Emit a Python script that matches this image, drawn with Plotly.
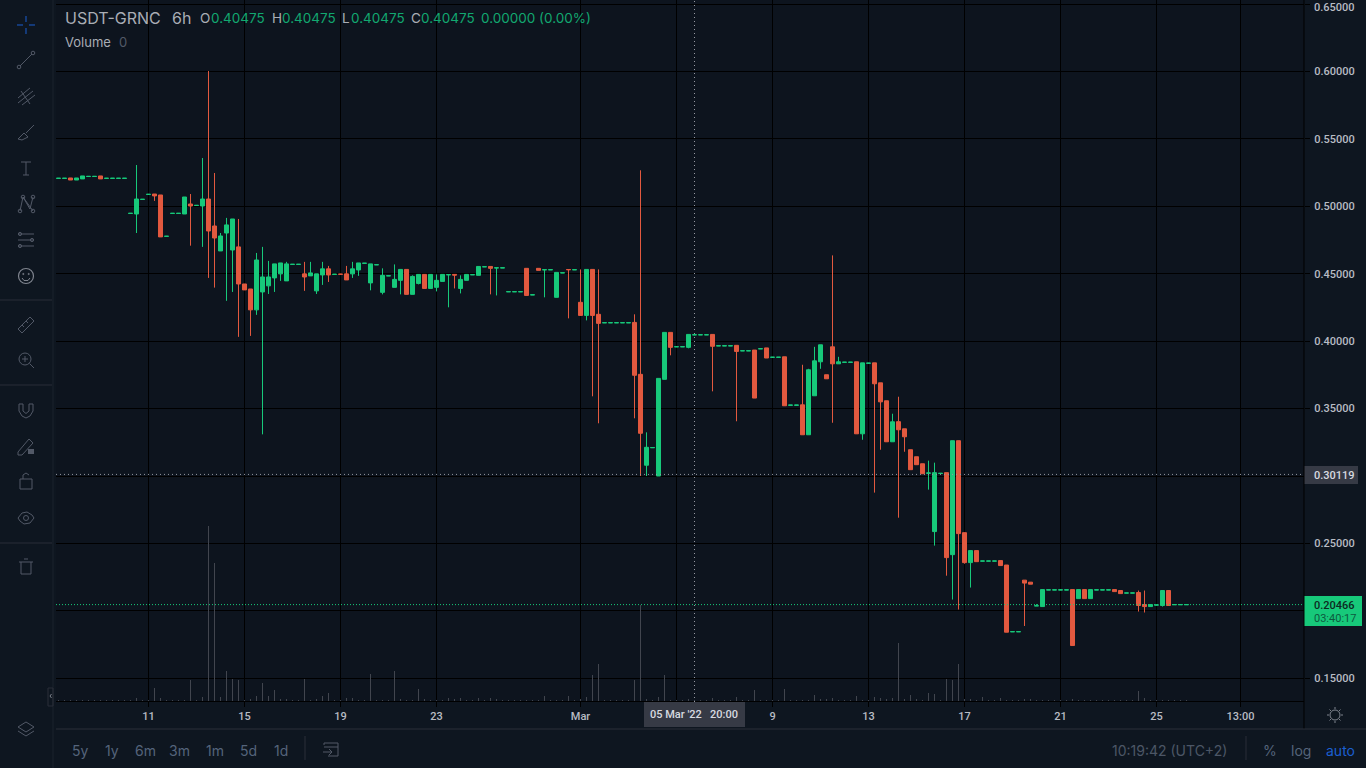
# Grafico de velas USDT-GRNC 6h, estilo TradingView escuro
import pandas as pd
import plotly.graph_objects as go

#%% Dados

inicio = "2022-02-07 06:00"

abertura = [
    .5207, .5207, .5210, .5195, .5203, .5221, .5221, .5225, .5207, .5207,
    .5207, .5207, .4947, .4943, .5051, .5088, .5091, .5084, .4777, .4947,
    .4947, .4943, .5017, .5006, .5002, .5054, .4854, .4669, .4802, .4676,
    .4699, .4424, .4387, .4232, .4365, .4410, .4469, .4499, .4447, .4569,
    .4569, .4499, .4484, .4373, .4491, .4536, .4495, .4497, .4499, .4499,
    .4528, .4577, .4432, .4566, .4362, .4484, .4399, .4451, .4532, .4347,
    .4428, .4495, .4391, .4399, .4443, .4492, .4495, .4391, .4451, .4492,
    .4488, .4551, .4554, .4543, .4543, .4366, .4366, .4366, .4540, .4343,
    .4540, .4529, .4529, .4325, .4506, .4531, .4529, .4288, .4191, .4532,
    .4199, .4136, .4136, .4136, .4136, .4136, .4139, .3754, .3080, .3210,
    .3000, .3717, .4065, .3958, .3958, .3954, .40470, .40470, .40470, .4050,
    .3965, .3965, .3965, .3969, .3928, .3928, .3934, .3943, .3950, .3880,
    .3880, .3884, .3525, .3525, .3528, .3306, .3595, .3847, .3751, .3958,
    .3832, .3843, .3843, .3847, .3313, .3836, .3839, .3691, .3558, .3254,
    .3403, .3350, .3195, .3143, .3091, .3021, .2588, .3019, .3025, .2417,
    .3262, .2580, .2358, .2447, .2369, .2369, .2369, .2373, .2340, .1845,
    .1845, .2228, .2213, .2037, .2032, .2155, .2155, .2155, .2155, .2158,
    .2091, .2158, .2091, .2155, .2155, .2155, .2158, .2151, .2132, .2132,
    .2136, .2047, .2032, .2043, .2040, .2151, .2046, .2046, .2046,
]

fechamento = [
    .5208, .5208, .5195, .5210, .5225, .5222, .5222, .5203, .5208, .5208,
    .5208, .5208, .4948, .5054, .5052, .5089, .5077, .4773, .4778, .4948,
    .4948, .5069, .5002, .5007, .5054, .4817, .4765, .4780, .4862, .4906,
    .4424, .4380, .4232, .4602, .4476, .4476, .4573, .4580, .4573, .4570,
    .4570, .4476, .4506, .4499, .4536, .4491, .4496, .4496, .4454, .4536,
    .4580, .4578, .4573, .4567, .4488, .4485, .4458, .4532, .4347, .4480,
    .4495, .4391, .4495, .4451, .4495, .4493, .4490, .4458, .4495, .4493,
    .4554, .4552, .4540, .4544, .4544, .4367, .4367, .4367, .4339, .4344,
    .4525, .4530, .4530, .4510, .4507, .4530, .4530, .4191, .4532, .4191,
    .4132, .4137, .4137, .4137, .4137, .4137, .3747, .3317, .3213, .3211,
    .3724, .4065, .3954, .3959, .3959, .4050, .40475, .40475, .40475, .3962,
    .3966, .3966, .3966, .3924, .3929, .3929, .3578, .3944, .3875, .3881,
    .3881, .3521, .3526, .3526, .3306, .3788, .3854, .3973, .3721, .3832,
    .3847, .3844, .3844, .3313, .3839, .3837, .3684, .3550, .3254, .3402,
    .3343, .3291, .3047, .3084, .3017, .3022, .3025, .3020, .2395, .3262,
    .2573, .2358, .2447, .2365, .2370, .2370, .2370, .2336, .1842, .1846,
    .1846, .2206, .2198, .2038, .2158, .2156, .2156, .2156, .2156, .1743,
    .2158, .2091, .2158, .2156, .2156, .2156, .2143, .2128, .2133, .2133,
    .2040, .2032, .2047, .2044, .2151, .2040, .20466, .20466, .20466,
]

maxima = [
    .5208, .5208, .5210, .5210, .5225, .5222, .5222, .5225, .5208, .5208,
    .5208, .5208, .4948, .5306, .5052, .5089, .5091, .5084, .4778, .4948,
    .4948, .5069, .5091, .5007, .5358, .6003, .5247, .4802, .4914, .4906,
    .4906, .4424, .4387, .4654, .4699, .4595, .4573, .4580, .4588, .4570,
    .4570, .4588, .4588, .4499, .4588, .4558, .4496, .4497, .4558, .4588,
    .4580, .4578, .4573, .4567, .4540, .4485, .4569, .4532, .4532, .4488,
    .4495, .4495, .4495, .4495, .4495, .4493, .4495, .4488, .4495, .4493,
    .4554, .4552, .4554, .4544, .4544, .4367, .4367, .4367, .4540, .4344,
    .4540, .4530, .4530, .4510, .4507, .4531, .4530, .4532, .4532, .4532,
    .4532, .4137, .4137, .4137, .4137, .4137, .4199, .5267, .3324, .3211,
    .3724, .4065, .4065, .3959, .3959, .4050, .40475, .40475, .40475, .4050,
    .3966, .3966, .3966, .3969, .3929, .3929, .3934, .3944, .3950, .3881,
    .3881, .3884, .3526, .3526, .3825, .3795, .3958, .3973, .3751, .4636,
    .3884, .3844, .3844, .3847, .3839, .3837, .3839, .3691, .3558, .3462,
    .3588, .3350, .3195, .3143, .3091, .3114, .3099, .3020, .3025, .3262,
    .3262, .2580, .2447, .2447, .2370, .2370, .2370, .2373, .2340, .1846,
    .1846, .2228, .2213, .2050, .2158, .2156, .2156, .2156, .2156, .2158,
    .2158, .2158, .2158, .2156, .2156, .2156, .2158, .2151, .2133, .2133,
    .2151, .2151, .2047, .2044, .2151, .2151, .20466, .20466, .20466,
]

minimas = [
    .5207, .5207, .5195, .5195, .5203, .5221, .5221, .5203, .5207, .5207,
    .5207, .5207, .4947, .4802, .5051, .5088, .5040, .4773, .4777, .4947,
    .4947, .4943, .4708, .5006, .4699, .4469, .4397, .4669, .4299, .4365,
    .4032, .4380, .4039, .4195, .3309, .4350, .4365, .4447, .4447, .4569,
    .4569, .4373, .4484, .4350, .4417, .4439, .4495, .4496, .4454, .4469,
    .4484, .4577, .4377, .4566, .4347, .4484, .4399, .4347, .4347, .4347,
    .4421, .4391, .4391, .4369, .4443, .4251, .4391, .4354, .4451, .4492,
    .4488, .4551, .4347, .4339, .4543, .4366, .4366, .4366, .4339, .4343,
    .4525, .4325, .4529, .4325, .4506, .4169, .4529, .4191, .4154, .3591,
    .3391, .4136, .4136, .4136, .4136, .4136, .3428, .3000, .3000, .3210,
    .3000, .3717, .3895, .3958, .3958, .3947, .40470, .40470, .40470, .3628,
    .3965, .3965, .3965, .3406, .3928, .3928, .3578, .3943, .3875, .3880,
    .3880, .3521, .3525, .3525, .3306, .3306, .3595, .3795, .3721, .3395,
    .3832, .3843, .3843, .3313, .3269, .3836, .2877, .3195, .3254, .3254,
    .2691, .3180, .3047, .3084, .3017, .2899, .2484, .3019, .2261, .2084,
    .2010, .2350, .2173, .2365, .2369, .2369, .2369, .2336, .1842, .1845,
    .1845, .1888, .2198, .2037, .2032, .2155, .2155, .2155, .2155, .1743,
    .2091, .2091, .2091, .2155, .2155, .2155, .2143, .2128, .2132, .2132,
    .1995, .1988, .2032, .2043, .2032, .2040, .2046, .2046, .2046,
]

# Volume em unidades relativas, sem escala visivel na imagem
volume = [
    1, 1, 1, 1, 1, 1, 1, 1, 1, 1,
    1, 1, 1, 3, 1, 1, 13, 3, 1, 1,
    1, 1, 21, 1, 4, 175, 138, 4, 30, 22,
    21, 1, 2, 5, 18, 5, 11, 2, 2, 1,
    1, 22, 1, 2, 5, 8, 1, 1, 3, 3,
    1, 1, 27, 1, 1, 1, 30, 2, 1, 1,
    12, 2, 1, 1, 1, 3, 2, 3, 1, 1,
    3, 1, 3, 2, 1, 1, 1, 1, 1, 1,
    1, 5, 1, 1, 1, 5, 1, 2, 4, 26,
    37, 1, 1, 1, 1, 1, 21, 96, 2, 1,
    4, 26, 1, 1, 1, 2, 1, 1, 1, 3,
    1, 1, 1, 4, 1, 1, 11, 1, 1, 1,
    1, 12, 1, 1, 1, 1, 6, 2, 2, 3,
    1, 1, 1, 5, 1, 1, 4, 3, 2, 3,
    58, 2, 6, 2, 1, 8, 7, 1, 22, 21,
    37, 2, 2, 1, 4, 1, 1, 3, 1, 1,
    1, 2, 2, 1, 1, 1, 1, 1, 1, 2,
    1, 1, 1, 1, 1, 1, 1, 1, 1, 1,
    10, 3, 1, 1, 1, 1, 1, 1, 1,
]

precos_eixo = [.15, .20, .25, .30, .35, .40, .45, .50, .55, .60, .65]
rotulos_eixo = ["0.15000", "", "0.25000", "", "0.35000", "0.40000",
                "0.45000", "0.50000", "0.55000", "0.60000", ""]

datas_eixo = ["2022-02-11", "2022-02-15", "2022-02-19", "2022-02-23", "2022-03-01",
              "2022-03-05", "2022-03-09", "2022-03-13", "2022-03-17", "2022-03-21",
              "2022-03-25", "2022-03-28 12:00"]
rotulos_datas = ["11", "15", "19", "23", "Mar", "", "9", "13", "17", "21", "25", "13:00"]

preco_cursor = 0.30119
data_cursor = "2022-03-05 18:00"
ultimo_preco = 0.20466

#%% Cores

fundo = "#0e1620"
fundo_grafico = "#0d141e"
verde = "#17c97a"
vermelho = "#e2593f"
cinza_texto = "#b8bcc4"
cinza_icone = "#525967"
cinza_botao = "#55647b"
azul = "#1b5fd0"

#%% Auxiliares em pixels (so para a moldura da interface)

LARG, ALT = 1366, 768

def px(x, y):
    return x / LARG, 1 - y / ALT

def texto(x, y, t, tam=13, cor=cinza_texto, anchor="left", peso=None, fonte="Inter"):
    xp, yp = px(x, y)
    return dict(x=xp, y=yp, xref="paper", yref="paper", text=t, showarrow=False,
                xanchor=anchor, yanchor="middle", align=anchor,
                font=dict(family=fonte, size=tam, color=cor, weight=peso))

def linha(pontos, cor=cinza_icone, w=1, fechar=False):
    caminho = ""
    for i, (x, y) in enumerate(pontos):
        xp, yp = px(x, y)
        caminho += f"{'M' if i == 0 else 'L'}{xp:.5f},{yp:.5f} "
    if fechar:
        caminho += "Z"
    return dict(type="path", xref="paper", yref="paper", path=caminho,
                line=dict(color=cor, width=w))

def retangulo(x0, y0, x1, y1, cor):
    a, b = px(x0, y0)
    c, d = px(x1, y1)
    return dict(type="rect", xref="paper", yref="paper", x0=a, y0=b, x1=c, y1=d,
                fillcolor=cor, line=dict(width=0))

def circulo(cx, cy, r, cor=cinza_icone, w=1):
    a, b = px(cx - r, cy - r)
    c, d = px(cx + r, cy + r)
    return dict(type="circle", xref="paper", yref="paper", x0=a, y0=b, x1=c, y1=d,
                line=dict(color=cor, width=w))

#%% Grafico

datas = pd.date_range(inicio, periods=len(abertura), freq="6h")

fig = go.Figure()

fig.add_trace(go.Bar(x=datas, y=volume, yaxis="y2", width=3600000,
                     marker=dict(color="#41454e", line=dict(width=0)), hoverinfo="skip"))

fig.add_trace(go.Candlestick(x=datas, open=abertura, high=maxima, low=minimas, close=fechamento,
                             increasing=dict(line=dict(color=verde, width=1), fillcolor=verde),
                             decreasing=dict(line=dict(color=vermelho, width=1), fillcolor=vermelho),
                             whiskerwidth=0))

# 1 pixel equivale a 1 hora no eixo do tempo
t0 = pd.Timestamp(inicio)
x_ini = t0 - pd.Timedelta(hours=2.5)
x_fim = t0 + pd.Timedelta(hours=1245.5)

#%% Moldura

formas = [
    # crosshair e ultimo preco
    dict(type="line", xref="x", yref="paper", x0=data_cursor, x1=data_cursor,
         y0=px(0, 726)[1], y1=1, line=dict(color="#9598a1", width=1, dash="1px,3px")),
    dict(type="line", xref="paper", yref="y", x0=px(56, 0)[0], x1=px(1304, 0)[0],
         y0=preco_cursor, y1=preco_cursor, line=dict(color="#9598a1", width=1, dash="1px,3px")),
    dict(type="line", xref="paper", yref="y", x0=px(56, 0)[0], x1=px(1304, 0)[0],
         y0=ultimo_preco, y1=ultimo_preco, line=dict(color=verde, width=1, dash="1px,2px")),
    # etiquetas
    retangulo(1304, 466, 1358, 484, "#363a45"),
    retangulo(1304, 596, 1362, 626, verde),
    retangulo(644, 702, 745, 727, "#363a45"),
    # divisorias
    linha([(1304, 0), (1304, 729)], "#000000", 1),
    linha([(56, 729), (1366, 729)], "#2a2e39", 1),
    linha([(53, 0), (53, 768)], "#1b222d", 1),
    linha([(0, 385), (52, 385)], "#2a2e39", 1),
    linha([(0, 543), (52, 543)], "#2a2e39", 1),
    linha([(0, 300), (52, 300)], "#2a2e39", 1),
    linha([(305, 736), (305, 760)], "#2a2e39", 1),
    linha([(1246, 736), (1246, 760)], "#2a2e39", 1),
    # cruz azul
    linha([(26, 16), (26, 22)], azul), linha([(26, 28), (26, 34)], azul),
    linha([(17, 25), (23, 25)], azul), linha([(29, 25), (35, 25)], azul),
    # linha de tendencia
    linha([(20, 66), (32, 54)]), circulo(19, 67, 1.8), circulo(33, 53, 1.8),
    # fibonacci
    linha([(18, 98), (30, 88)]), linha([(18, 103), (33, 91)]), linha([(22, 105), (35, 95)]),
    linha([(21, 91), (30, 104)]),
    # pincel
    linha([(18, 139), (24, 133), (28, 137), (22, 140), (18, 139)]), linha([(26, 133), (34, 125)]),
    # T
    linha([(21, 162), (31, 162)]), linha([(26, 162), (26, 175)]), linha([(23, 175), (29, 175)]),
    # XABCD
    linha([(20, 211), (23, 197), (30, 209), (33, 197)]), linha([(23, 197), (33, 211)]),
    circulo(20, 211, 1.8), circulo(23, 197, 1.8), circulo(33, 197, 1.8), circulo(33, 211, 1.8),
    # ajustes
    linha([(18, 234), (34, 234)]), linha([(18, 240), (34, 240)]), linha([(18, 246), (34, 246)]),
    circulo(20, 234, 1.6), circulo(32, 240, 1.6), circulo(20, 246, 1.6),
    # rosto
    circulo(26, 276, 7.5, "#7f848e", 1.2), circulo(23.3, 274, .6, "#7f848e"), circulo(28.7, 274, .6, "#7f848e"),
    linha([(22, 278), (24, 280.5), (28, 280.5), (30, 278)], "#7f848e"),
    # regua
    linha([(18, 329), (30, 317), (34, 321), (22, 333)], fechar=True),
    linha([(22, 325), (24, 327)]), linha([(26, 321), (28, 323)]),
    # lupa
    circulo(25, 359, 6), linha([(29.5, 363.5), (34, 368)]), linha([(22, 359), (28, 359)]),
    linha([(25, 356), (25, 362)]),
    # ima
    linha([(19, 404), (19, 411), (22, 416), (26, 418), (30, 416), (33, 411), (33, 404), (29, 404),
           (29, 411), (26, 413.5), (23, 411), (23, 404)], fechar=True),
    # lapis com cadeado
    linha([(18, 452), (29, 439), (33, 443), (22, 455), (18, 455)], fechar=True),
    retangulo(28, 449, 34, 454, cinza_icone),
    # cadeado
    linha([(20, 479), (32, 479), (32, 489), (20, 489)], fechar=True),
    linha([(23, 479), (23, 475), (26, 473), (29, 475)]),
    # olho
    linha([(18, 518), (22, 513), (27, 512), (32, 515), (34, 518), (30, 523), (24, 524), (20, 521)], fechar=True),
    circulo(26, 518, 2.5),
    # lixeira
    linha([(21, 562), (21, 574), (31, 574), (31, 562)]), linha([(19, 562), (33, 562)]),
    linha([(24, 559), (28, 559)]),
    # camadas
    linha([(26, 722), (34, 727), (26, 732), (18, 727)], fechar=True),
    linha([(18, 731), (26, 736), (34, 731)]),
    # recolher barra
    linha([(48, 688), (53, 688), (53, 706), (48, 706)], fechar=True, cor="#2a2e39"),
    linha([(51.5, 694), (50, 696), (51.5, 698)], cor="#7f848e"),
    # calendario
    linha([(324, 745), (324, 743), (338, 743), (338, 756), (328, 756)]), linha([(324, 747), (338, 747)]),
    linha([(323, 752), (332, 752)]), linha([(329, 749), (332, 752), (329, 755)]),
    # engrenagem
    circulo(1335, 715, 5, "#7f848e"),
    linha([(1335, 707), (1335, 709)], "#7f848e"), linha([(1335, 721), (1335, 723)], "#7f848e"),
    linha([(1327, 715), (1329, 715)], "#7f848e"), linha([(1341, 715), (1343, 715)], "#7f848e"),
    linha([(1329.5, 709.5), (1331, 711)], "#7f848e"), linha([(1339, 719), (1340.5, 720.5)], "#7f848e"),
    linha([(1340.5, 709.5), (1339, 711)], "#7f848e"), linha([(1331, 719), (1329.5, 720.5)], "#7f848e"),
]

verde_titulo = "#12a870"
anotacoes = [
    texto(63, 18, "USDT-GRNC", 16, "#a9adb5"),
    texto(170, 18, "6h", 16, "#a9adb5"),
    texto(198, 18.5, "O", 13.5, "#a9adb5"), texto(209, 18.5, "0.40475", 13.5, verde_titulo),
    texto(270, 18.5, "H", 13.5, "#a9adb5"), texto(280, 18.5, "0.40475", 13.5, verde_titulo),
    texto(340, 18.5, "L", 13.5, "#a9adb5"), texto(349, 18.5, "0.40475", 13.5, verde_titulo),
    texto(409, 18.5, "C", 13.5, "#a9adb5"), texto(419, 18.5, "0.40475", 13.5, verde_titulo),
    texto(479, 18.5, "0.00000 (0.00%)", 13.5, verde_titulo),
    texto(63, 42, "Volume", 13, "#a9adb5"), texto(117, 42, "0", 13, "#525967"),
    # etiquetas do eixo
    texto(1312, 7, "0.65000", 11, cinza_texto, peso=500, fonte="Roboto"),
    texto(1312, 475, "0.30119", 11, "#d8dae0", peso=500, fonte="Roboto"),
    texto(1312, 605, "0.20466", 11, "#0d2a22", peso=500, fonte="Roboto"),
    texto(1312, 618, "03:40:17", 11, "#0d5a3f", fonte="Roboto"),
    texto(676, 714, "05 Mar '22", 11, "#d8dae0", "center", 500, "Roboto"),
    texto(724, 714, "20:00", 11, "#d8dae0", "center", 500, "Roboto"),
    # intervalos
    texto(80, 750, "5y", 14, cinza_botao, "center"), texto(112, 750, "1y", 14, cinza_botao, "center"),
    texto(145, 750, "6m", 14, cinza_botao, "center"), texto(179, 750, "3m", 14, cinza_botao, "center"),
    texto(215, 750, "1m", 14, cinza_botao, "center"), texto(248, 750, "5d", 14, cinza_botao, "center"),
    texto(281, 750, "1d", 14, cinza_botao, "center"),
    texto(1169, 750, "10:19:42 (UTC+2)", 14, "#4c5666", "center"),
    texto(1270, 750, "%", 14, cinza_botao, "center"),
    texto(1301, 750, "log", 14, cinza_botao, "center"),
    texto(1340, 750, "auto", 14, azul, "center"),
]

fig.update_layout(
    width=LARG, height=ALT,
    margin=dict(l=0, r=0, t=0, b=0),
    paper_bgcolor=fundo, plot_bgcolor=fundo_grafico,
    showlegend=False, hovermode=False, boxgap=0.33, boxgroupgap=0,
    shapes=formas, annotations=anotacoes,
    xaxis=dict(domain=[56 / LARG, 1304 / LARG], type="date", range=[x_ini, x_fim],
               rangeslider=dict(visible=False), tickmode="array", tickvals=datas_eixo,
               ticktext=rotulos_datas, showgrid=True, gridcolor="#000000", gridwidth=1,
               zeroline=False, showline=True, linecolor="#000000", linewidth=1,
               ticks="outside", ticklen=5, tickcolor="#000000",
               tickfont=dict(family="Roboto", size=11, color=cinza_texto, weight=500),
               anchor="y"),
    yaxis=dict(domain=[1 - 701 / ALT, 1], range=[0.13318, 0.65297], side="right",
               tickmode="array", tickvals=precos_eixo, ticktext=rotulos_eixo,
               showgrid=True, gridcolor="#000000", gridwidth=1, zeroline=False,
               ticks="outside", ticklen=5, tickcolor="#000000", ticklabelstandoff=2,
               tickfont=dict(family="Roboto", size=11, color=cinza_texto, weight=500),
               anchor="x"),
    yaxis2=dict(domain=[1 - 701 / ALT, 1], range=[0, 701], overlaying="y", visible=False,
                anchor="x"),
)

fig.write_html("out.html", config={"displayModeBar": False},
               post_script="document.body.style.margin='0';document.body.style.background='#0e1620';")
